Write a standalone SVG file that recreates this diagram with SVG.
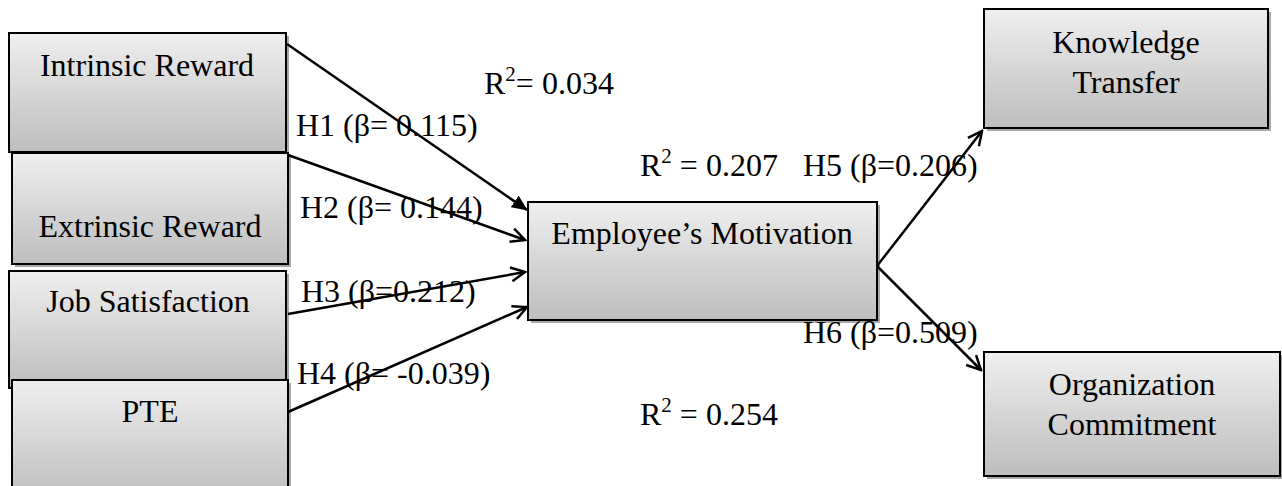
<svg xmlns="http://www.w3.org/2000/svg" width="1282" height="486" viewBox="0 0 1282 486">
<defs>
<linearGradient id="g" x1="0" y1="0" x2="0" y2="1">
<stop offset="0" stop-color="#efefef"/>
<stop offset="1" stop-color="#bdbdbd"/>
</linearGradient>
<marker id="fill" markerWidth="16" markerHeight="14" refX="15" refY="7" orient="auto" markerUnits="userSpaceOnUse">
<path d="M0,0 L16,7 L0,14 Z" fill="#000"/>
</marker>
<marker id="open" markerWidth="18" markerHeight="18" refX="16" refY="9" orient="auto" markerUnits="userSpaceOnUse">
<path d="M2,2 L16,9 L2,16" fill="none" stroke="#000" stroke-width="2.5"/>
</marker>
<style>
.box{fill:url(#g);stroke:#000;stroke-width:2}
.sh{fill:#a8a8a8}
.t{font-family:"Liberation Serif","Times New Roman",serif;font-size:32px;fill:#000}
.c{text-anchor:middle}
.ln{stroke:#000;stroke-width:2.5;fill:none}
</style>
</defs>
<rect width="1282" height="486" fill="#fff"/>

<g id="intrinsic">
<rect class="sh" x="12" y="36" width="277" height="119"/>
<rect class="box" x="9" y="33" width="277" height="119"/>
<text class="t c" x="147" y="76">Intrinsic Reward</text>
</g>
<g id="extrinsic">
<rect class="sh" x="15" y="156" width="276" height="111"/>
<rect class="box" x="12" y="153" width="276" height="111"/>
<text class="t c" x="150" y="237">Extrinsic Reward</text>
</g>
<g id="jobsat">
<rect class="sh" x="12" y="274" width="277" height="117"/>
<rect class="box" x="9" y="271" width="277" height="117"/>
<text class="t c" x="148" y="312">Job Satisfaction</text>
</g>
<g id="pte">
<rect class="sh" x="15" y="383" width="276" height="120"/>
<rect class="box" x="12" y="380" width="276" height="120"/>
<text class="t c" x="150" y="422">PTE</text>
</g>
<g id="motivation">
<rect class="sh" x="531" y="205" width="349" height="118"/>
<rect class="box" x="528" y="202" width="349" height="118"/>
<text class="t c" x="702" y="244">Employee’s Motivation</text>
</g>
<g id="knowledge">
<rect class="sh" x="987" y="12" width="284" height="119"/>
<rect class="box" x="984" y="9" width="284" height="119"/>
<text class="t c" x="1126" y="53">Knowledge</text>
<text class="t c" x="1126" y="93">Transfer</text>
</g>
<g id="commitment">
<rect class="sh" x="987" y="355" width="296" height="124"/>
<rect class="box" x="984" y="352" width="296" height="124"/>
<text class="t c" x="1132" y="395">Organization</text>
<text class="t c" x="1132" y="435">Commitment</text>
</g>

<g id="connectors">
<line class="ln" x1="287" y1="44" x2="527" y2="210" marker-end="url(#fill)"/>
<line class="ln" x1="288" y1="155" x2="525" y2="240" marker-end="url(#open)"/>
<line class="ln" x1="288" y1="314" x2="525" y2="272" marker-end="url(#open)"/>
<line class="ln" x1="288" y1="412" x2="527" y2="307" marker-end="url(#open)"/>
<line class="ln" x1="877" y1="266" x2="982" y2="131" marker-end="url(#open)"/>
<line class="ln" x1="877" y1="266" x2="981" y2="370" marker-end="url(#open)"/>
</g>

<g id="labels">
<text class="t" x="484" y="94">R<tspan font-size="21" dy="-13">2</tspan><tspan dy="13">= 0.034</tspan></text>
<text class="t" x="296" y="136">H1 (β= 0.115)</text>
<text class="t" x="300" y="218">H2 (β= 0.144)</text>
<text class="t" x="301" y="302">H3 (β=0.212)</text>
<text class="t" x="297" y="384">H4 (β= -0.039)</text>
<text class="t" x="640" y="176">R<tspan font-size="21" dy="-13">2</tspan><tspan dy="13"> = 0.207</tspan></text>
<text class="t" x="803" y="176">H5 (β=0.206)</text>
<text class="t" x="803" y="343">H6 (β=0.509)</text>
<text class="t" x="640" y="425">R<tspan font-size="21" dy="-13">2</tspan><tspan dy="13"> = 0.254</tspan></text>
</g>
</svg>
